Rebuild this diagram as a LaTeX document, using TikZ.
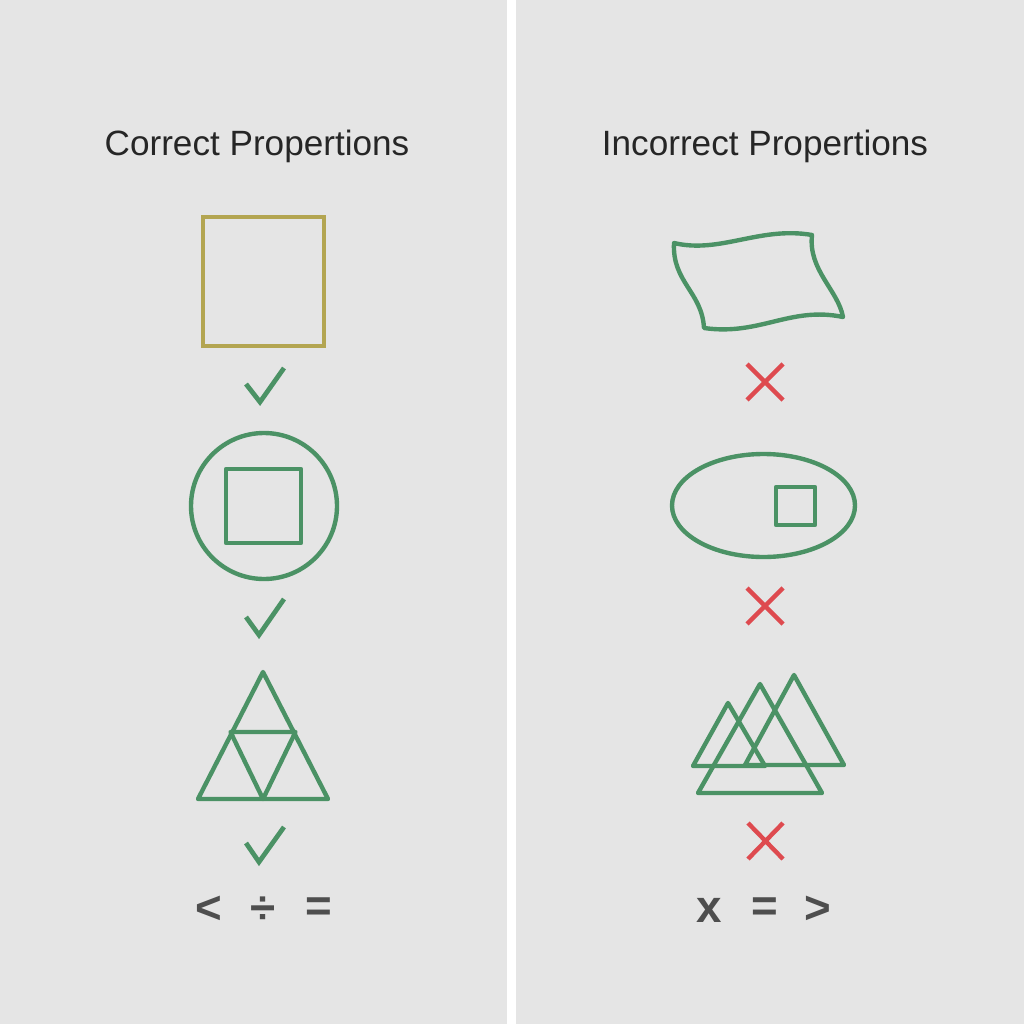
\documentclass[tikz,border=0pt]{standalone}
\usepackage{fontspec}
\setmainfont{Liberation Sans}
\definecolor{panelgray}{HTML}{E5E5E5}
\definecolor{olive}{HTML}{B3A551}
\definecolor{shapegreen}{HTML}{4B9265}
\definecolor{crossred}{HTML}{DE4A4F}
\definecolor{symgray}{HTML}{4E4E4E}
\begin{document}
\begin{tikzpicture}[x=0.02cm,y=-0.02cm,
  outline/.style={draw=shapegreen,line width=2.5pt,line join=round},
  tick/.style={draw=shapegreen,line width=2.7pt},
  cross/.style={draw=crossred,line width=2.5pt},
  heading/.style={font=\fontsize{20}{24}\selectfont,text=black!85},
  sym/.style={font=\fontsize{26}{30}\selectfont\bfseries,text=symgray}]
  \useasboundingbox (0,0) rectangle (1024,1024);
  \fill[panelgray] (0,0) rectangle (1024,1024);
  \fill[white] (507,0) rectangle (516,1024);

  \node[heading] (lefttitle) at (257,146) {Correct Propertions};
  \node[heading] (righttitle) at (765,146) {Incorrect Propertions};

  \draw[olive,line width=2.5pt] (203,217) rectangle (324,346);
  \draw[tick] (246,384) -- (260,402) -- (284,368);
  \draw[outline] (264,506) circle (73);
  \draw[outline] (226,469) rectangle (301,543);
  \draw[tick] (246,617) -- (259,635) -- (284,599);
  \draw[outline] (263,672) -- (198,799) -- (328,799) -- cycle;
  \draw[outline] (230.5,732) -- (295.5,732) -- (263,799) -- cycle;
  \draw[tick] (246,843) -- (259,862) -- (284,827);

  \node[sym] (less) at (209,910) {<};
  \node[sym] (divide) at (263,910) {÷};
  \node[sym] (equalleft) at (319,910) {=};

  \draw[outline] (674,243) .. controls (720,254) and (760,226) .. (812,235)
    .. controls (808,270) and (838,290) .. (843,317)
    .. controls (790,306) and (760,336) .. (704,328)
    .. controls (702,292) and (672,282) .. (674,243) -- cycle;
  \draw[cross] (747,364) -- (783,400) (783,364) -- (747,400);
  \draw[outline] (763.5,505.5) ellipse (91.5 and 51.5);
  \draw[outline] (776,487) rectangle (815,525);
  \draw[cross] (747,588) -- (783,624) (783,588) -- (747,624);
  \draw[outline] (728,703) -- (693,766) -- (765,766) -- cycle;
  \draw[outline] (760,684) -- (698,793) -- (822,793) -- cycle;
  \draw[outline] (794,675) -- (745,765) -- (844,765) -- cycle;
  \draw[cross] (748,823) -- (783,859) (783,823) -- (748,859);

  \node[sym] (times) at (709,910) {x};
  \node[sym] (equalright) at (765,910) {=};
  \node[sym] (greater) at (818,910) {>};
\end{tikzpicture}
\end{document}
